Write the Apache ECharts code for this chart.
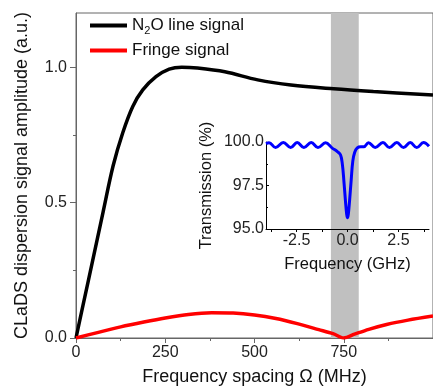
<!DOCTYPE html>
<html>
<head>
<meta charset="utf-8">
<script src="https://cdn.jsdelivr.net/npm/echarts@6/dist/echarts.min.js"></script>
<style>
  html, body { margin: 0; padding: 0; background: #fff; }
  #chart { width: 433px; height: 391px; }
</style>
</head>
<body>
<div id="chart"></div>
<script>
// main panel: N2O line signal vs frequency spacing
const spacingMHz = [0, 20, 48, 76, 104, 131, 159, 187, 224, 261, 296, 340, 417, 509, 602, 722, 833, 1000];
const lineSignal = [0, 0.123, 0.294, 0.466, 0.636, 0.758, 0.855, 0.916, 0.965, 0.993, 1.0, 0.997, 0.983, 0.953, 0.934, 0.92, 0.91, 0.897];

// fringe signal
const fringeMHz = [0, 60, 125, 190, 250, 315, 380, 440, 500, 560, 620, 680, 720, 750, 780, 820, 870, 930, 1000];
const fringeSignal = [0, 0.02, 0.041, 0.059, 0.074, 0.087, 0.093, 0.092, 0.085, 0.072, 0.053, 0.031, 0.016, 0, 0.014, 0.032, 0.05, 0.066, 0.081];

// inset: transmission spectrum
const insetGHz = [-4.0, -3.85, -3.53, -3.15, -2.79, -2.47, -2.14, -1.78, -1.45, -1.08, -0.75, -0.5, -0.34, -0.25, -0.18, -0.1, -0.04, 0,
  0.04, 0.1, 0.18, 0.26, 0.35, 0.48, 0.65, 0.8, 1.03, 1.36, 1.74, 2.06, 2.42, 2.75, 3.08, 3.4, 3.73, 4.0];
const transmission = [99.9, 99.96, 99.68, 99.97, 99.68, 99.97, 99.68, 99.97, 99.68, 99.95, 99.65, 99.45, 99.25, 98.7, 97.8, 96.6, 95.85, 95.65,
  95.85, 96.6, 97.8, 98.9, 99.4, 99.66, 99.72, 99.72, 99.96, 99.68, 99.97, 99.68, 99.97, 99.68, 99.97, 99.68, 99.97, 99.75];

const bandMHz = [714, 792];
const yTicks = [0, 0.5, 1.0];
const yMinorTicks = [0.25, 0.75];
const insetXLabels = [-2.5, 0, 2.5];
const insetXTicks = [-3.75, -2.5, -1.25, 0, 1.25, 2.5, 3.75];

const FONT = '"Liberation Sans", Arial, sans-serif';
const axisGrey = '#666';

const chart = echarts.init(document.getElementById('chart'));

chart.setOption({
  animation: false,
  textStyle: { fontFamily: FONT },
  grid: [
    { left: 76, top: 13, width: 360, height: 328, show: true, borderColor: axisGrey, borderWidth: 1 },
    { left: 266, top: 142, width: 163, height: 87 },
  ],
  legend: {
    orient: 'vertical',
    left: 85,
    top: 12,
    icon: 'rect',
    itemWidth: 37,
    itemHeight: 4,
    itemGap: 6,
    data: [
      { name: 'N2O line signal', itemStyle: { color: '#000' } },
      { name: 'Fringe signal', itemStyle: { color: '#ff0000' } },
    ],
    formatter: function (name) {
      return name === 'N2O line signal' ? '{a|N}{s|2}{a|O line signal}' : '{a|' + name + '}';
    },
    textStyle: {
      color: '#111',
      fontSize: 17,
      rich: {
        a: { fontSize: 17, fontFamily: FONT, color: '#111', lineHeight: 21 },
        s: { fontSize: 11, fontFamily: FONT, color: '#111', padding: [10, 0, 0, 0] },
      },
    },
  },
  xAxis: [
    {
      type: 'value',
      gridIndex: 0,
      min: 0,
      max: 1000,
      interval: 250,
      name: 'Frequency spacing Ω (MHz)',
      nameLocation: 'middle',
      nameGap: 30,
      nameTextStyle: { fontSize: 18, color: '#111' },
      axisLine: { lineStyle: { color: axisGrey } },
      axisTick: { length: 5, lineStyle: { color: axisGrey } },
      minorTick: { show: true, splitNumber: 2, length: 3, lineStyle: { color: axisGrey } },
      axisLabel: { fontSize: 16, color: '#222', margin: 7, showMaxLabel: false },
      splitLine: { show: false },
    },
    {
      type: 'value',
      gridIndex: 1,
      z: 6,
      min: -4,
      max: 4,
      name: 'Frequency (GHz)',
      nameLocation: 'middle',
      nameGap: 27,
      nameTextStyle: { fontSize: 16.5, color: '#111' },
      axisLine: { onZero: false, lineStyle: { color: '#000' } },
      axisTick: { length: 3, customValues: insetXTicks, lineStyle: { color: '#000' } },
      axisLabel: {
        fontSize: 16, color: '#222', margin: 4,
        customValues: insetXLabels,
        formatter: (v) => v.toFixed(1),
      },
      splitLine: { show: false },
    },
  ],
  yAxis: [
    {
      type: 'value',
      gridIndex: 0,
      position: 'left',
      min: 0,
      max: 1.2,
      name: 'CLaDS dispersion signal amplitude (a.u.)',
      nameLocation: 'middle',
      nameGap: 45,
      nameTextStyle: { fontSize: 18, color: '#111' },
      axisLine: { show: true, lineStyle: { color: axisGrey } },
      axisTick: { show: true, length: 6, customValues: yTicks, lineStyle: { color: axisGrey } },
      axisLabel: {
        fontSize: 16, color: '#222', margin: 9,
        customValues: yTicks,
        formatter: (v) => v.toFixed(1),
      },
      splitLine: { show: false },
    },
    {
      // minor ticks only
      type: 'value',
      gridIndex: 0,
      position: 'left',
      min: 0,
      max: 1.2,
      axisLine: { show: false },
      axisTick: { show: true, length: 3, customValues: yMinorTicks, lineStyle: { color: axisGrey } },
      axisLabel: { show: false },
      splitLine: { show: false },
    },
    {
      type: 'value',
      gridIndex: 1,
      z: 6,
      position: 'left',
      min: 95,
      max: 100,
      interval: 2.5,
      name: 'Transmission (%)',
      nameLocation: 'middle',
      nameGap: 51,
      nameTextStyle: { fontSize: 16.5, color: '#111' },
      axisLine: { show: true, onZero: false, lineStyle: { color: '#000' } },
      axisTick: { show: true, inside: true, length: 3, lineStyle: { color: '#000' } },
      minorTick: { show: true, splitNumber: 2, length: 2, lineStyle: { color: '#000' } },
      axisLabel: { fontSize: 16, color: '#222', margin: 2, formatter: (v) => v.toFixed(1) },
      splitLine: { show: false },
    },
  ],
  series: [
    {
      type: 'line',
      xAxisIndex: 0,
      yAxisIndex: 0,
      z: 1,
      data: [],
      silent: true,
      markArea: {
        silent: true,
        itemStyle: { color: '#c0c0c0' },
        data: [[{ xAxis: bandMHz[0] }, { xAxis: bandMHz[1] }]],
      },
    },
    {
      name: 'N2O line signal',
      type: 'line',
      xAxisIndex: 0,
      yAxisIndex: 0,
      z: 3,
      smooth: 0.35,
      symbol: 'none',
      lineStyle: { color: '#000', width: 3.5 },
      itemStyle: { color: '#000' },
      data: spacingMHz.map((x, i) => [x, lineSignal[i]]),
    },
    {
      name: 'Fringe signal',
      type: 'line',
      xAxisIndex: 0,
      yAxisIndex: 0,
      z: 3,
      smooth: 0.3,
      symbol: 'none',
      lineStyle: { color: '#ff0000', width: 3.5 },
      itemStyle: { color: '#ff0000' },
      data: fringeMHz.map((x, i) => [x, fringeSignal[i]]),
    },
    {
      name: 'Transmission',
      type: 'line',
      xAxisIndex: 1,
      yAxisIndex: 2,
      z: 7,
      clip: false,
      smooth: 0.4,
      symbol: 'none',
      lineStyle: { color: '#0000ff', width: 3 },
      data: insetGHz.map((x, i) => [x, transmission[i]]),
    },
  ],
});
</script>
</body>
</html>
